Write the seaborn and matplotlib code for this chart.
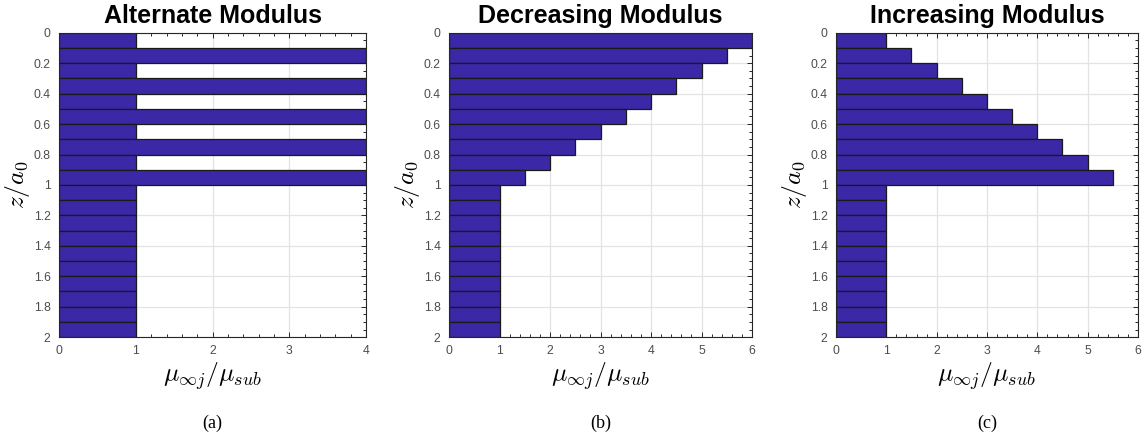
import numpy as np
import pandas as pd
import matplotlib
matplotlib.use("Agg")
import matplotlib.pyplot as plt
from matplotlib.ticker import MultipleLocator
import seaborn as sns

# ─── Data: layer depth (z/a0, layer centre) and modulus ratio ─────
layer_z = [0.05, 0.15, 0.25, 0.35, 0.45, 0.55, 0.65, 0.75, 0.85, 0.95,
           1.05, 1.15, 1.25, 1.35, 1.45, 1.55, 1.65, 1.75, 1.85, 1.95]

alternate = [1, 4, 1, 4, 1, 4, 1, 4, 1, 4,
             1, 1, 1, 1, 1, 1, 1, 1, 1, 1]
decreasing = [6, 5.5, 5, 4.5, 4, 3.5, 3, 2.5, 2, 1.5,
              1, 1, 1, 1, 1, 1, 1, 1, 1, 1]
increasing = [1, 1.5, 2, 2.5, 3, 3.5, 4, 4.5, 5, 5.5,
              1, 1, 1, 1, 1, 1, 1, 1, 1, 1]

titles = ["Alternate Modulus", "Decreasing Modulus", "Increasing Modulus"]
captions = ["(a)", "(b)", "(c)"]
x_max = [4, 6, 6]

BAR_COLOR = "#3b28a6"

sns.set_theme(style="white")
plt.rcParams["font.family"] = ["Liberation Sans", "DejaVu Sans"]
plt.rcParams["mathtext.fontset"] = "cm"

fig = plt.figure(figsize=(11.46, 4.43), dpi=100)
lefts = [0.0515, 0.3918, 0.7295]
widths = [0.268, 0.2644, 0.2635]

for i, values in enumerate([alternate, decreasing, increasing]):
    ax = fig.add_axes([lefts[i], 0.239, widths[i], 0.687])
    df = pd.DataFrame({"z": layer_z, "mu": values})
    sns.barplot(data=df, x="mu", y="z", orient="h", native_scale=True,
                width=1.0, color=BAR_COLOR, saturation=1,
                edgecolor="#1a1a1a", linewidth=0.9, ax=ax, zorder=3)

    ax.set_xlim(0, x_max[i])
    ax.set_ylim(2, 0)
    ax.xaxis.set_major_locator(MultipleLocator(1))
    ax.xaxis.set_minor_locator(MultipleLocator(0.2))
    ax.yaxis.set_major_locator(MultipleLocator(0.2))
    ax.yaxis.set_minor_locator(MultipleLocator(0.05))
    ax.yaxis.set_major_formatter(plt.FuncFormatter(lambda v, p: f"{v:g}"))
    ax.xaxis.set_major_formatter(plt.FuncFormatter(lambda v, p: f"{v:g}"))

    ax.grid(True, which="major", color="#e3e3e3", linewidth=0.9, zorder=0)
    ax.set_axisbelow(True)
    ax.tick_params(which="both", direction="in", top=True, right=True,
                   bottom=True, left=True, colors="#262626",
                   labelcolor="#4d4d4d", labelsize=8.7, width=0.7)
    ax.tick_params(which="major", length=3.5, pad=6)
    ax.tick_params(which="minor", length=2)
    for s in ax.spines.values():
        s.set_color("#262626")
        s.set_linewidth(0.8)
        s.set_zorder(5)

    ax.set_title(titles[i], fontsize=18, fontweight="bold", pad=7, color="black")
    ax.set_xlabel(r"$\mu_{\infty j}/\mu_{sub}$", fontsize=18.5, labelpad=2,
                  color="black")
    ax.set_ylabel(r"$z/a_0$", fontsize=18.5, labelpad=1, color="black")
    ax.text(0.5, -0.255, captions[i], transform=ax.transAxes, ha="center",
            va="top", fontsize=13, family="Liberation Serif", color="black")

fig.savefig("out.png", dpi=100)
